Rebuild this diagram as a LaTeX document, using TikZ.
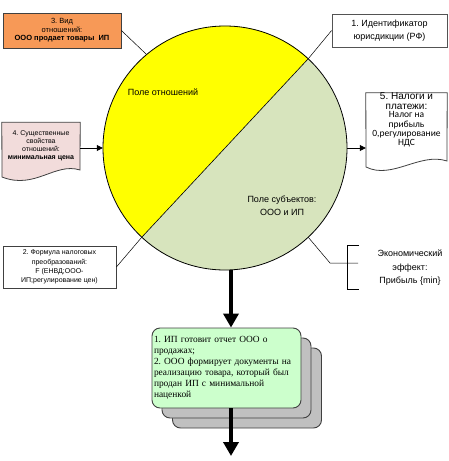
\documentclass[tikz,border=0pt]{standalone}
\usepackage{fontspec}
\setmainfont{Liberation Sans}
\newfontfamily\tnrfont{Liberation Serif}
\newfontfamily\calfont{Carlito}
\usetikzlibrary{arrows.meta,calc}
\definecolor{orangefill}{RGB}{247,153,87}
\definecolor{pinkfill}{RGB}{242,220,219}
\definecolor{halfyellow}{RGB}{255,255,0}
\definecolor{halfgreen}{RGB}{215,228,189}
\definecolor{greenfill}{RGB}{204,255,204}
\definecolor{shadowgray}{RGB}{192,192,192}
\definecolor{edgegray}{RGB}{64,64,64}
\frenchspacing
\tikzset{
  labelbox/.style={draw=edgegray, line width=0.8pt, align=center, inner sep=1pt},
  docbox/.style={draw=edgegray, line width=0.8pt},
  thin line/.style={draw=black, line width=0.5pt},
  bigarrow/.style={line width=4.5pt, -{Triangle[width=15pt,length=14pt]}},
  smallarrow/.style={line width=0.8pt, -{Triangle[width=6pt,length=6pt]}},
  stackbox/.style={draw=edgegray, line width=0.9pt, rounded corners=8pt, minimum width=149pt, minimum height=80pt},
}
\begin{document}
\begin{tikzpicture}[x=1pt,y=-1pt]
\useasboundingbox (0,0) rectangle (448,461);

% circle
\node[circle, minimum size=244pt, inner sep=0pt] (C) at (225,148) {};
\fill[halfyellow] (C.47) arc[start angle=-47, end angle=-227, radius=122] -- cycle;
\fill[halfgreen] (C.227) arc[start angle=-227, end angle=-407, radius=122] -- cycle;
\draw[line width=0.6pt] (C.47) -- (C.227);
\draw[line width=0.8pt] (C) circle[radius=122];
\node[font=\fontsize{9}{11}\selectfont] (t1) at (163,92) {Поле отношений};
\node[font=\fontsize{9}{12.5}\selectfont, align=center] (t2) at (282,205.5) {Поле субъектов:\\ООО и ИП};

% box 3 (orange)
\node[labelbox, fill=orangefill, minimum width=118pt, minimum height=35pt,
      font=\fontsize{7.5}{8.5}\selectfont] (b3) at (62,30.5)
      {3. Вид\\отношений:\\\textbf{ООО продает товары\ \ ИП}};
\draw[thin line] (b3.east) -- (C.130);

% box 1
\node[labelbox, draw=edgegray!90, fill=white, minimum width=115pt, minimum height=33pt,
      font=\fontsize{9}{12.5}\selectfont] (b1) at (389.5,30.5)
      {1. Идентификатор\\юрисдикции (РФ)};
\draw[thin line] (b1.west) -- (C.47);

% box 2
\node[labelbox, fill=white, minimum width=113pt, minimum height=42pt,
      font=\fontsize{7}{9.3}\selectfont] (b2) at (59.5,267)
      {2. Формула налоговых\\преобразований:\\F (ЕНВД;ООО-\\ИП;регулирование цен)};
\draw[thin line] (b2.east) -- (C.227);

% box 4 (pink document)
\node[minimum width=78pt, minimum height=55pt, inner sep=0pt] (b4) at (41,150) {};
\draw[docbox, fill=pinkfill] (b4.north west) -- (b4.north east) -- (80,170)
   .. controls (55,162) and (35,190) .. (2,177) -- cycle;
\node[align=center, font=\fontsize{7}{8}\selectfont] (b4t) at (41,146)
      {4. Существенные\\свойства\\отношений:\\\textbf{минимальная цена}};
\draw[smallarrow] (b4.east |- C.west) -- (C.west);

% box 5 (white document)
\node[minimum width=81pt, minimum height=74pt, inner sep=0pt] (b5) at (406.5,130) {};
\draw[docbox, fill=white] (b5.north west) -- (b5.north east) -- (447,161)
   .. controls (420,152) and (392,180) .. (366,167) -- cycle;
\node[align=center, inner sep=0pt, font=\fontsize{10}{10}\selectfont] (b5t) at (406.5,101.5)
      {5. Налоги и\\платежи:};
\node[align=center, inner sep=0pt, font=\calfont\fontsize{9.5}{9.3}\selectfont] (b5u) at (406.5,129.5)
      {Налог на\\прибыль\\0,регулирование\\НДС};
\draw[smallarrow] (C.east) -- (C.east -| b5.west);

% economic effect bracket
\coordinate (k1) at (330,263);
\coordinate (k2) at (358,263);
\coordinate (bt) at (347,245);
\coordinate (bb) at (347,289);
\draw[thin line] (C.-47) -- (k1) -- (k2);
\draw[thin line] ($(bt)+(12,0)$) -- (bt) -- (bb) -- ($(bb)+(12,0)$);
\node[align=center, font=\fontsize{9}{13.5}\selectfont] (eff) at (410,268)
      {Экономический\\эффект:\\Прибыль \{min\}};

% stacked boxes
\node[stackbox, fill=shadowgray] (s2) at (247,388) {};
\node[stackbox, fill=shadowgray] (s1) at (236.5,378) {};
\node[stackbox, fill=greenfill, text width=145pt, align=left, inner xsep=2pt,
      font=\tnrfont\fontsize{9.4}{11}\selectfont] (g) at (226.5,368)
      {1. ИП готовит отчет ООО о\\продажах;\\2. ООО формирует документы на\\реализацию товара, который был\\продан ИП с минимальной\\наценкой\\[3pt]};

% thick arrows
\coordinate (top) at (231,270);
\coordinate (bot) at (231,456);
\draw[bigarrow] (top) -- (top |- g.north);
\draw[bigarrow] (top |- g.south) -- (bot);
\end{tikzpicture}
\end{document}
